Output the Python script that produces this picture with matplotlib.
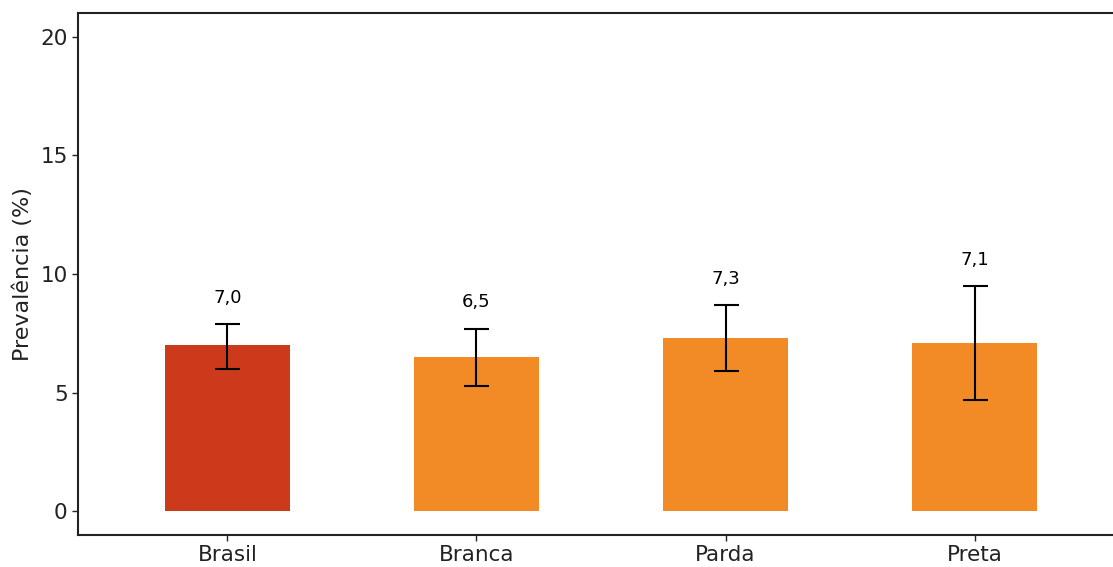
import numpy as np
import matplotlib.pyplot as plt

categorias = ['Brasil', 'Branca', 'Parda', 'Preta']
prevalencia = [7.0, 6.5, 7.3, 7.1]
ic_inferior = [6.0, 5.3, 5.9, 4.7]
ic_superior = [7.9, 7.7, 8.7, 9.5]
rotulos = ['7,0', '6,5', '7,3', '7,1']
cores = ['#cd3a1b', '#f28a26', '#f28a26', '#f28a26']

fig = plt.figure(figsize=(11.13, 5.67), dpi=100)
# the axes run a little past the right edge of the figure
ax = fig.add_axes([78 / 1113, 32 / 567, 1046 / 1113, 522 / 567])

x = np.arange(len(categorias))
prev = np.array(prevalencia)
erro = [prev - np.array(ic_inferior), np.array(ic_superior) - prev]

ax.bar(x, prev, width=0.5, color=cores, zorder=2)
ax.errorbar(x, prev, yerr=erro, fmt='none', ecolor='black',
            elinewidth=1.5, capsize=9, capthick=1.5, zorder=3)

for xi, sup, txt in zip(x, ic_superior, rotulos):
    ax.text(xi, sup + 1.1, txt, ha='center', va='center', fontsize=13)

ax.set_xlim(-0.6, 3.6)
ax.set_ylim(-1, 21)
ax.set_yticks([0, 5, 10, 15, 20])
ax.set_xticks(x)
ax.set_xticklabels(categorias)
ax.set_ylabel('Prevalência (%)', fontsize=16, color='#222222', labelpad=5)
ax.tick_params(axis='both', labelsize=15.5, colors='#222222', length=4, width=1)

for s in ax.spines.values():
    s.set_linewidth(1.5)
    s.set_color('#222222')

fig.savefig('out.png', dpi=100)
